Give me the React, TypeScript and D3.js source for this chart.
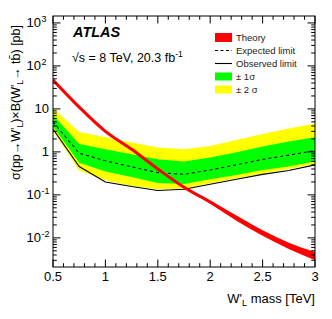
import * as d3 from "d3";

// W' mass points [TeV]
const massPoints = [0.5, 0.75, 1.0, 1.25, 1.5, 1.75, 2.0, 2.25, 2.5, 2.75, 3.0];

// cross-section x BR [pb]
const theory = [47, 11, 3.0, 1.15, 0.4, 0.15, 0.068, 0.029, 0.013, 0.0065, 0.0038];
const theoryUp = [48.5, 11.4, 3.1, 1.2, 0.42, 0.16, 0.074, 0.033, 0.015, 0.0077, 0.0047];
const theoryDown = [45.5, 10.6, 2.9, 1.1, 0.38, 0.14, 0.062, 0.025, 0.0112, 0.0055, 0.003];

const expected = [5.0, 0.93, 0.62, 0.45, 0.33, 0.3, 0.38, 0.5, 0.67, 0.84, 1.07];
const observed = [3.4, 0.455, 0.2, 0.156, 0.126, 0.135, 0.177, 0.23, 0.3, 0.37, 0.5];
const sigma1Up = [7.2, 1.53, 1.15, 0.88, 0.67, 0.6, 0.74, 0.98, 1.33, 1.74, 2.2];
const sigma1Down = [3.9, 0.56, 0.35, 0.26, 0.19, 0.18, 0.23, 0.29, 0.38, 0.455, 0.6];
const sigma2Up = [10.5, 2.9, 2.2, 1.65, 1.26, 1.15, 1.38, 1.9, 2.6, 3.5, 4.6];
const sigma2Down = [3.1, 0.37, 0.22, 0.16, 0.135, 0.14, 0.186, 0.245, 0.31, 0.4, 0.53];

const xTickValues = [0.5, 1, 1.5, 2, 2.5, 3];
const xTickLabels = ["0.5", "1", "1.5", "2", "2.5", "3"];
const yTickValues = [0.01, 0.1, 1, 10, 100, 1000];
const yTickBase = ["10", "10", "1", "10", "10", "10"];
const yTickExp = ["-2", "-1", "", "", "2", "3"];

const legendLabels = ["Theory", "Expected limit", "Observed limit", "± 1σ", "± 2 σ"];

const FONT = "'Liberation Sans', Arial, Helvetica, sans-serif";

const W = 332;
const H = 319;
const left = 53;
const right = 315;
const top = 16;
const bottom = 267;

export default function App() {
    const x = d3.scaleLinear().domain([0.5, 3]).range([left, right]);
    const y = d3.scaleLog().domain([0.0021, 1450]).range([bottom, top]);

    const band = (lo: number[], hi: number[], curve = d3.curveLinear) =>
        d3
            .area<number>()
            .x((d) => x(d))
            .y0((d, i) => y(lo[i]))
            .y1((d, i) => y(hi[i]))
            .curve(curve)(massPoints) || "";

    const line = (vals: number[]) =>
        d3
            .line<number>()
            .x((d) => x(d))
            .y((d, i) => y(vals[i]))(massPoints) || "";

    const theoryLine =
        d3
            .line<number>()
            .x((d) => x(d))
            .y((d, i) => y(theory[i]))
            .curve(d3.curveMonotoneX)(massPoints) || "";

    // minor ticks
    const xMinor = d3.range(5, 31).map((k) => k / 10).filter((v) => !xTickValues.includes(v));
    const yMinor: number[] = [];
    for (let e = -3; e <= 3; e++) {
        for (let k = 2; k <= 9; k++) {
            const v = k * Math.pow(10, e);
            if (v > 0.0021 && v < 1450) yMinor.push(v);
        }
    }

    const legX = 215;
    const legY = 37.5;
    const legStep = 13;

    return (
        <svg
            width={W}
            height={H}
            style={{ position: "absolute", left: 0, top: 0, background: "#fff" }}
            fontFamily={FONT}
        >
            <defs>
                <clipPath id="frame">
                    <rect x={left} y={top} width={right - left} height={bottom - top} />
                </clipPath>
            </defs>

            <g clipPath="url(#frame)">
                <path d={band(sigma2Down, sigma2Up)} fill="#ffff00" />
                <path d={band(sigma1Down, sigma1Up)} fill="#00ff00" />
                <path d={line(expected)} fill="none" stroke="#000" strokeWidth={1.1} strokeDasharray="3,3" />
                <path d={line(observed)} fill="none" stroke="#000" strokeWidth={1.1} />
                <path d={band(theoryDown, theoryUp, d3.curveMonotoneX)} fill="#ff0000" />
                <path d={theoryLine} fill="none" stroke="#ff0000" strokeWidth={3} />
            </g>

            {/* x ticks, bottom and top */}
            {xTickValues.map((v) => (
                <g key={"xt" + v} stroke="#000" strokeWidth={1}>
                    <line x1={x(v)} x2={x(v)} y1={bottom} y2={bottom - 7.5} />
                    <line x1={x(v)} x2={x(v)} y1={top} y2={top + 7.5} />
                </g>
            ))}
            {xMinor.map((v) => (
                <g key={"xm" + v} stroke="#000" strokeWidth={1}>
                    <line x1={x(v)} x2={x(v)} y1={bottom} y2={bottom - 3.8} />
                    <line x1={x(v)} x2={x(v)} y1={top} y2={top + 3.8} />
                </g>
            ))}
            {xTickValues.map((v, i) => (
                <text key={"xl" + v} x={x(v)} y={281} fontSize={13} textAnchor="middle" fill="#000">
                    {xTickLabels[i]}
                </text>
            ))}

            {/* y ticks, left and right */}
            {yTickValues.map((v) => (
                <g key={"yt" + v} stroke="#000" strokeWidth={1}>
                    <line x1={left} x2={left + 7.5} y1={y(v)} y2={y(v)} />
                    <line x1={right} x2={right - 7.5} y1={y(v)} y2={y(v)} />
                </g>
            ))}
            {yMinor.map((v) => (
                <g key={"ym" + v} stroke="#000" strokeWidth={1}>
                    <line x1={left} x2={left + 3.8} y1={y(v)} y2={y(v)} />
                    <line x1={right} x2={right - 3.8} y1={y(v)} y2={y(v)} />
                </g>
            ))}
            {yTickValues.map((v, i) => (
                <text key={"yl" + v} x={yTickExp[i] ? 41 : 49} y={y(v) + 4.5} fontSize={13} textAnchor="end" fill="#000">
                    {yTickBase[i]}
                </text>
            ))}
            {yTickValues.map((v, i) =>
                yTickExp[i] ? (
                    <text key={"ye" + v} x={41.5} y={y(v) - 1} fontSize={9} textAnchor="start" fill="#000">
                        {yTickExp[i]}
                    </text>
                ) : null,
            )}

            {/* frame */}
            <rect x={left} y={top} width={right - left} height={bottom - top} fill="none" stroke="#000" strokeWidth={1} />

            {/* axis titles */}
            <text x={right} y={303} fontSize={13} textAnchor="end" fill="#000">
                W'<tspan fontSize={9} dy={3}>L</tspan>
                <tspan dy={-3}> mass [TeV]</tspan>
            </text>
            <text transform={`translate(20,25) rotate(-90)`} fontSize={12.5} textAnchor="end" fill="#000">
                σ(pp→W'<tspan fontSize={8.5} dy={3}>L</tspan>
                <tspan dy={-3}>)×B(W'</tspan>
                <tspan fontSize={8.5} dy={3}>L</tspan>
                <tspan dy={-3}>→ t{"b\u0304"}) [pb]</tspan>
            </text>

            {/* annotations */}
            <text x={73} y={37} fontSize={14.5} fontWeight="bold" fontStyle="italic" fill="#000">
                ATLAS
            </text>
            <text x={72} y={62} fontSize={12.5} fill="#000">
                √s = 8 TeV, 20.3 fb<tspan fontSize={8.5} dy={-5}>-1</tspan>
            </text>

            {/* legend */}
            <rect x={legX} y={legY - 4.5} width={17} height={9} fill="#ff0000" />
            <line x1={legX} x2={legX + 17} y1={legY + legStep} y2={legY + legStep} stroke="#000" strokeWidth={1.1} strokeDasharray="3,2.5" />
            <line x1={legX} x2={legX + 17} y1={legY + 2 * legStep} y2={legY + 2 * legStep} stroke="#000" strokeWidth={1.1} />
            <rect x={legX} y={legY + 3 * legStep - 4} width={17} height={8} fill="#00ff00" />
            <rect x={legX} y={legY + 4 * legStep - 4} width={17} height={8} fill="#ffff00" />
            {legendLabels.map((t, i) => (
                <text key={t} x={236} y={legY + i * legStep + 3.5} fontSize={9.5} fill="#222">
                    {t}
                </text>
            ))}
        </svg>
    );
}
